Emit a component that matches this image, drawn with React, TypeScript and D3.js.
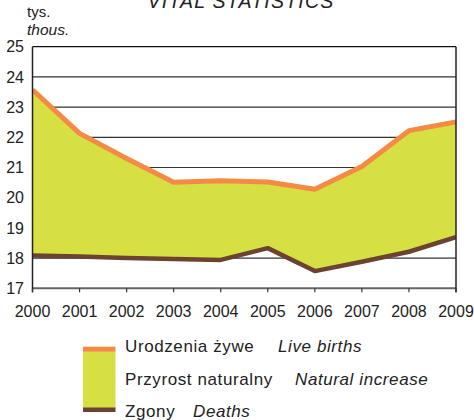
import React from "react";
import * as d3 from "d3";

const years = [2000, 2001, 2002, 2003, 2004, 2005, 2006, 2007, 2008, 2009];
const births = [23.57, 22.13, 21.3, 20.51, 20.56, 20.52, 20.28, 21.03, 22.22, 22.51];
const deaths = [18.09, 18.05, 18.0, 17.97, 17.94, 18.33, 17.57, 17.88, 18.21, 18.69];
const yTicks = [17, 18, 19, 20, 21, 22, 23, 24, 25];

const FONT = "'Liberation Sans', Arial, Helvetica, sans-serif";
const ORANGE = "#F58A45";
const GREEN = "#D6E042";
const BROWN = "#6B4330";

export default function App() {
  const W = 474, H = 420;
  const x = d3.scaleLinear().domain([2000, 2009]).range([32.5, 456]);
  const y = d3.scaleLinear().domain([17, 25]).range([288.3, 46.7]);

  const area = d3
    .area<number>()
    .x((_, i) => x(years[i]))
    .y0((_, i) => y(deaths[i]))
    .y1((d) => y(d));
  const lineB = d3.line<number>().x((_, i) => x(years[i])).y((d) => y(d));

  return (
    <svg
      width={W}
      height={H}
      style={{ position: "absolute", left: 0, top: 0, background: "#fff" }}
      fontFamily={FONT}
    >
      <defs>
        <clipPath id="plot">
          <rect x={x(2000)} y={0} width={x(2009) - x(2000)} height={y(17)} />
        </clipPath>
      </defs>
      <text x={241} y={8} textAnchor="middle" fontSize={19.5} fontStyle="italic" letterSpacing={1.2} fill="#222">
        VITAL  STATISTICS
      </text>
      <text x={27} y={17} fontSize={15} fill="#222">tys.</text>
      <text x={27} y={35} fontSize={15.5} fontStyle="italic" fill="#222">thous.</text>

      {/* grid */}
      {yTicks.map((t) => (
        <line key={t} x1={x(2000)} x2={x(2009)} y1={y(t)} y2={y(t)} stroke={t === 25 ? "#111" : t === 17 ? "#666" : "#333"} strokeWidth={t === 17 ? 2 : 1.2} />
      ))}
      {yTicks.map((t) => (
        <text key={"l" + t} x={24} y={y(t) + 5.7} textAnchor="end" fontSize={16} fill="#222">
          {t}
        </text>
      ))}

      <g clipPath="url(#plot)">
        <path d={area(births) || ""} fill={GREEN} />
        <path d={lineB(deaths) || ""} fill="none" stroke={BROWN} strokeWidth={4.5} strokeLinejoin="round" />
        <path d={lineB(births) || ""} fill="none" stroke={ORANGE} strokeWidth={5} strokeLinejoin="round" />
      </g>

      {/* axes */}
      <line x1={x(2000)} x2={x(2000)} y1={y(25)} y2={y(17) + 4} stroke="#222" strokeWidth={1.5} />
      <line x1={x(2009)} x2={x(2009)} y1={y(25)} y2={y(17) + 4} stroke="#222" strokeWidth={1.5} />
      {years.map((yr) => (
        <g key={yr}>
          <line x1={x(yr)} x2={x(yr)} y1={y(17)} y2={y(17) + 4} stroke="#333" strokeWidth={1.2} />
          <text x={x(yr)} y={317} textAnchor="middle" fontSize={16} fill="#222">
            {yr}
          </text>
        </g>
      ))}

      {/* legend */}
      <rect x={83} y={351.5} width={32.5} height={56.5} fill={GREEN} />
      <rect x={83} y={346.7} width={32.5} height={5} fill={ORANGE} />
      <rect x={83} y={407.5} width={32.5} height={4.5} fill={BROWN} />
      <g fontSize={17} letterSpacing={0.6} fill="#222">
        <text x={125} y={352}>Urodzenia żywe</text>
        <text x={278} y={352} fontStyle="italic">Live births</text>
        <text x={125} y={385}>Przyrost naturalny</text>
        <text x={295} y={385} fontStyle="italic">Natural increase</text>
        <text x={125} y={416.5}>Zgony</text>
        <text x={193} y={416.5} fontStyle="italic">Deaths</text>
      </g>
    </svg>
  );
}
